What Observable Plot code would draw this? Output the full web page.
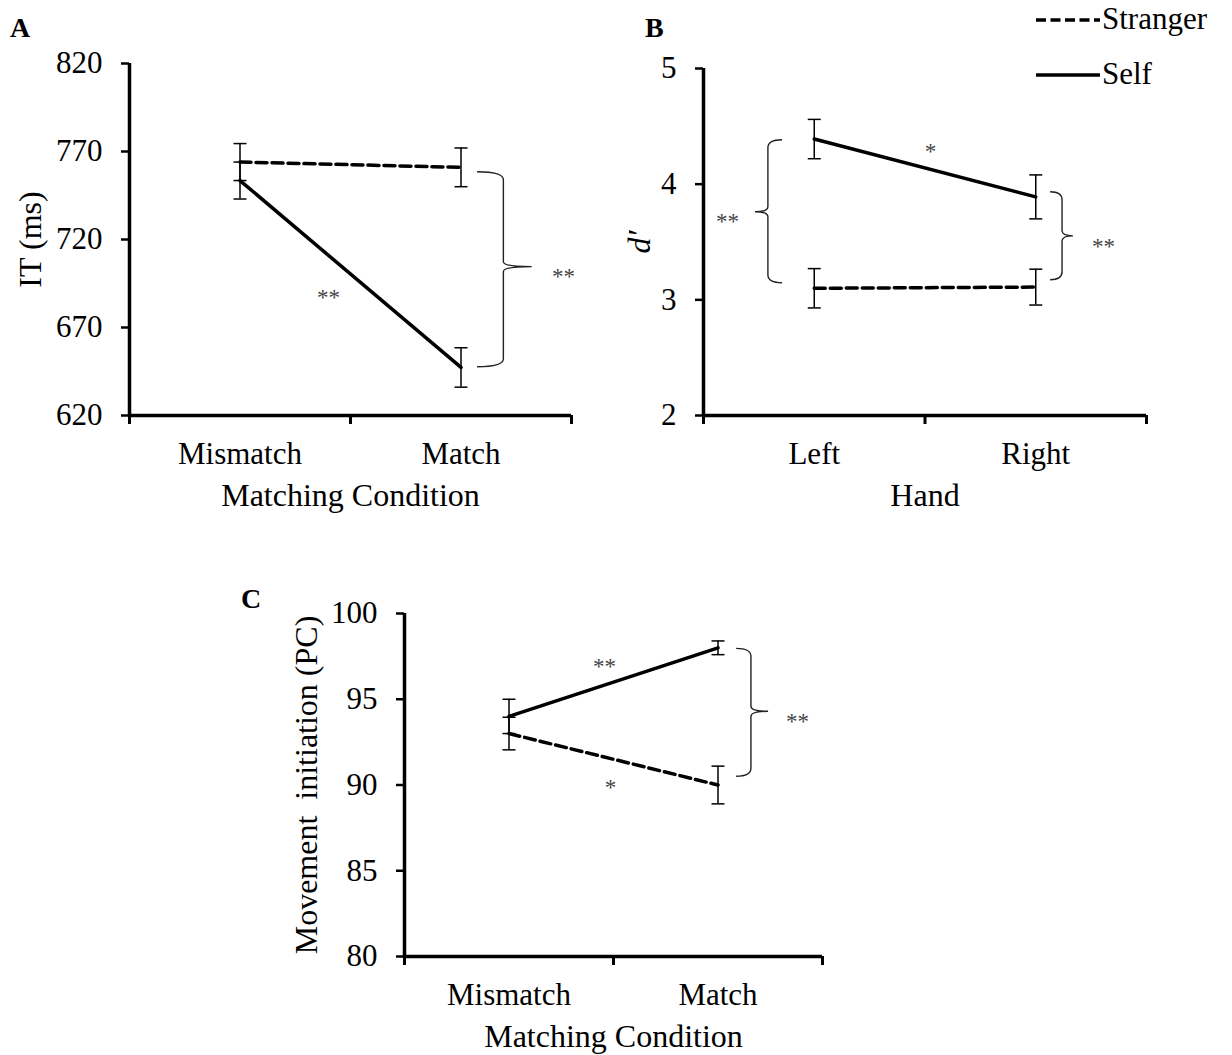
<!DOCTYPE html>
<html><head><meta charset="utf-8">
<script src="https://cdn.jsdelivr.net/npm/d3@7"></script>
<script src="https://cdn.jsdelivr.net/npm/@observablehq/plot@0.6"></script>
<style>
body{margin:0;background:#fff;}
#fig{position:relative;width:1232px;height:1055px;font-family:"Liberation Serif","Times New Roman",serif;color:#000;background:#fff;}
.panel{position:absolute;}
.panel svg{max-width:none !important;}
#overlay{position:absolute;left:0;top:0;pointer-events:none;}
</style></head><body><div id="fig"></div>
<script>
// ---------- data ----------
const conditions = ["Mismatch", "Match"];
const hands = ["Left", "Right"];
const seriesNames = ["Stranger", "Self"];

// Panel A: IT (ms)
const itTicks = [620, 670, 720, 770, 820];
const itStranger = [764.0, 761.0];
const itStrangerSE = [10.5, 11.0];
const itSelf = [753.5, 647.3];
const itSelfSE = [10.5, 11.2];

// Panel B: d'
const dTicks = [2, 3, 4, 5];
const dStranger = [3.10, 3.11];
const dStrangerSE = [0.17, 0.155];
const dSelf = [4.39, 3.89];
const dSelfSE = [0.17, 0.19];

// Panel C: Movement initiation (PC)
const miTicks = [80, 85, 90, 95, 100];
const miStranger = [93.0, 90.0];
const miStrangerSE = [0.95, 1.1];
const miSelf = [94.0, 98.0];
const miSelfSE = [1.0, 0.4];

// significance annotations (data units)
const starsA = [{x: 1.40, y: 689.3, t: "**"}, {x: 2.464, y: 701.4, t: "**"}];
const bracesA = [{x0: 2.075, x1: 2.194, x2: 2.322, yTop: 758.2, yMid: 704.3, yBot: 647.4}];
const starsB = [{x: 1.525, y: 4.318, t: "*"}, {x: 0.608, y: 3.714, t: "**"}, {x: 2.306, y: 3.497, t: "**"}];
const bracesB = [
  {x0: 0.857, x1: 0.793, x2: 0.735, yTop: 4.38, yMid: 3.757, yBot: 3.143},
  {x0: 2.067, x1: 2.121, x2: 2.170, yTop: 3.93, yMid: 3.549, yBot: 3.169}
];
const starsC = [{x: 1.457, y: 97.14, t: "**"}, {x: 1.486, y: 90.07, t: "*"}, {x: 2.380, y: 93.92, t: "**"}];
const bracesC = [{x0: 2.089, x1: 2.160, x2: 2.242, yTop: 97.94, yMid: 94.27, yBot: 90.48}];

// ---------- helpers ----------
function rows(cats, sV, sSE, selfV, selfSE) {
  const out = [];
  cats.forEach((c, i) => {
    out.push({series: "Stranger", pos: i + 1, cat: c, v: sV[i], se: sSE[i]});
    out.push({series: "Self", pos: i + 1, cat: c, v: selfV[i], se: selfSE[i]});
  });
  return out;
}
const capSymbol = {draw(ctx, size) { const r = Math.sqrt(size / Math.PI); ctx.moveTo(-r, 0); ctx.lineTo(r, 0); }};

function braceMark(braces) {
  return (index, scales) => {
    const g = d3.create("svg:g");
    for (const b of braces) {
      const x0 = scales.x(b.x0), x1 = scales.x(b.x1), x2 = scales.x(b.x2);
      const yT = scales.y(b.yTop), yM = scales.y(b.yMid), yB = scales.y(b.yBot);
      const r = 8, r2 = 5;
      const p = d3.path();
      p.moveTo(x0, yT); p.quadraticCurveTo(x1, yT, x1, yT + r);
      p.lineTo(x1, yM - r2); p.quadraticCurveTo(x1, yM, x2, yM);
      p.moveTo(x2, yM); p.quadraticCurveTo(x1, yM, x1, yM + r2);
      p.lineTo(x1, yB - r); p.quadraticCurveTo(x1, yB, x0, yB);
      g.append("path").attr("d", p.toString()).attr("fill", "none")
        .attr("stroke", "#222").attr("stroke-width", 1.4);
    }
    return g.node();
  };
}

function panel(o) {
  const data = rows(o.cats, o.sV, o.sSE, o.selfV, o.selfSE);
  const y0 = o.yTicks[0], y1 = o.yTicks[o.yTicks.length - 1];
  return Plot.plot({
    width: o.width, height: o.height,
    marginLeft: o.ml, marginRight: o.mr, marginTop: o.mt, marginBottom: o.mb,
    style: {fontFamily: "Liberation Serif, Times New Roman, serif", fontSize: "30px", background: "transparent", overflow: "visible", color: "black"},
    x: {domain: [0.5, 2.5], axis: null},
    y: {domain: [y0, y1], axis: null},
    marks: [
      Plot.axisY({ticks: o.yTicks, tickSize: 8, tickPadding: 19, tickFormat: d => String(d), label: null, fontSize: 31, strokeWidth: 2.5}),
      Plot.axisX({ticks: [0.5, 1.5, 2.5], tickSize: 9, tickFormat: () => "", label: null, strokeWidth: 3}),
      Plot.axisX({ticks: [1, 2], tickSize: 0, tickPadding: 26, tickFormat: d => o.cats[Math.round(d) - 1], label: null, fontSize: 31}),
      Plot.ruleX([0.5], {y1: y0, y2: y1, strokeWidth: 3.5}),
      Plot.ruleY([y0], {x1: 0.5, x2: 2.5, strokeWidth: 3.5}),
      Plot.text([o.xTitle], {frameAnchor: "bottom", lineAnchor: "middle", textAnchor: "middle", dy: 80, text: d => d, fontSize: 32}),
      Plot.text([o.yTitle], {frameAnchor: "left", lineAnchor: "middle", textAnchor: "middle", dx: o.yTitleDx, rotate: -90, text: d => d, fontSize: 32, fontStyle: o.yItalic ? "italic" : "normal"}),
      Plot.ruleX(data, {x: "pos", y1: d => d.v - d.se, y2: d => d.v + d.se, strokeWidth: 1.5}),
      Plot.dot(data, {x: "pos", y: d => d.v + d.se, symbol: capSymbol, r: 6.5, stroke: "black", fill: "none", strokeWidth: 1.5}),
      Plot.dot(data, {x: "pos", y: d => d.v - d.se, symbol: capSymbol, r: 6.5, stroke: "black", fill: "none", strokeWidth: 1.5}),
      Plot.line(data.filter(d => d.series === "Stranger"), {x: "pos", y: "v", stroke: "black", strokeWidth: 3.5, strokeDasharray: "11,5"}),
      Plot.line(data.filter(d => d.series === "Self"), {x: "pos", y: "v", stroke: "black", strokeWidth: 3.5}),
      braceMark(o.braces),
      Plot.text(o.stars, {x: "x", y: "y", text: "t", fontSize: 23, fill: "#444", dy: 4})
    ]
  });
}

const fig = document.getElementById("fig");
function place(node, left, top) {
  const d = document.createElement("div");
  d.className = "panel"; d.style.left = left + "px"; d.style.top = top + "px";
  d.appendChild(node); fig.appendChild(d);
}

place(panel({width: 616, height: 530, ml: 129, mr: 45, mt: 63, mb: 115,
  cats: conditions, sV: itStranger, sSE: itStrangerSE, selfV: itSelf, selfSE: itSelfSE,
  yTicks: itTicks, xTitle: "Matching Condition", yTitle: "IT (ms)", yTitleDx: -99,
  stars: starsA, braces: bracesA}), 0, 0);

place(panel({width: 616, height: 530, ml: 87, mr: 86, mt: 68, mb: 115,
  cats: hands, sV: dStranger, sSE: dStrangerSE, selfV: dSelf, selfSE: dSelfSE,
  yTicks: dTicks, xTitle: "Hand", yTitle: "d\u2032", yTitleDx: -64, yItalic: true,
  stars: starsB, braces: bracesB}), 616, 0);

place(panel({width: 1232, height: 525, ml: 404, mr: 410, mt: 83, mb: 99,
  cats: conditions, sV: miStranger, sSE: miStrangerSE, selfV: miSelf, selfSE: miSelfSE,
  yTicks: miTicks, xTitle: "Matching Condition", yTitle: "Movement\u00A0 initiation (PC)", yTitleDx: -98,
  stars: starsC, braces: bracesC}), 0, 530);

// overlay: panel letters and legend
const ov = d3.select(fig).append("svg").attr("id", "overlay").attr("width", 1232).attr("height", 1055)
  .style("font-family", "Liberation Serif, Times New Roman, serif");
[{t: "A", x: 10, y: 37}, {t: "B", x: 645, y: 37}, {t: "C", x: 241, y: 608}].forEach(l =>
  ov.append("text").attr("x", l.x).attr("y", l.y).attr("font-size", 28).attr("font-weight", "bold").text(l.t));
const legendItems = [{name: seriesNames[0], dash: "10,4.5", y: 20}, {name: seriesNames[1], dash: null, y: 75}];
legendItems.forEach(it => {
  const ln = ov.append("line").attr("x1", 1036).attr("x2", 1100).attr("y1", it.y).attr("y2", it.y)
    .attr("stroke", "black").attr("stroke-width", 3.5);
  if (it.dash) ln.attr("stroke-dasharray", it.dash);
  ov.append("text").attr("x", 1102).attr("y", it.y + 9).attr("font-size", 31).text(it.name);
});
</script></body></html>
